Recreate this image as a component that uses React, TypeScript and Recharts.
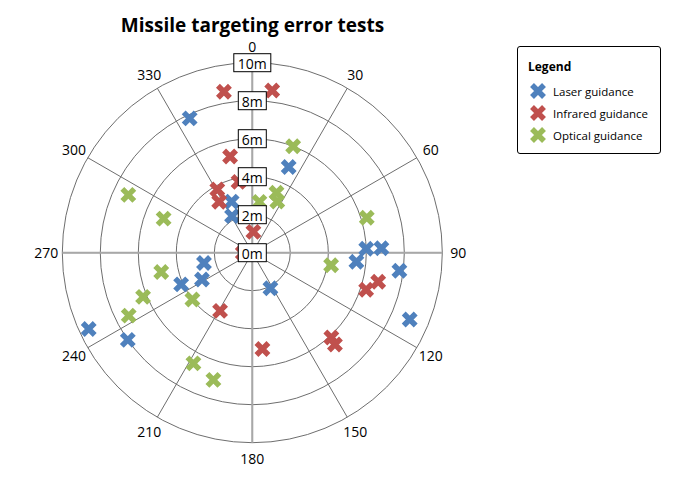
import React from 'react';
import {
  ScatterChart,
  Scatter,
  XAxis,
  YAxis,
  Legend,
  RadarChart,
  Radar,
  PolarGrid,
  PolarAngleAxis,
  PolarRadiusAxis,
} from 'recharts';

// ---- data (angle in degrees clockwise from north, distance in metres) ----
const angleLabels = ['0', '30', '60', '90', '120', '150', '180', '210', '240', '270', '300', '330'];
const ringTicks = [0, 2, 4, 6, 8, 10];

const laserAngle = [335, 23, 338, 331, 258, 242, 246, 235, 245, 153, 95, 88, 88, 97, 113];
const laserDist = [7.8, 4.9, 2.9, 2.2, 2.6, 3.0, 4.1, 8.0, 9.5, 2.1, 5.5, 6.0, 6.8, 7.8, 9.0];

const infraredAngle = [350, 7, 347, 331, 349, 327, 3, 268, 209, 174, 137, 138, 108, 103];
const infraredDist = [8.6, 8.6, 5.2, 3.8, 3.8, 3.2, 1.1, 0.5, 3.5, 5.1, 6.1, 6.5, 6.3, 6.8];

const opticalAngle = [21, 22, 26, 8, 295, 291, 258, 248, 243, 232, 208, 197, 99, 73];
const opticalDist = [6.0, 3.4, 3.0, 2.7, 7.2, 5.0, 4.9, 6.2, 7.3, 4.0, 6.6, 7.0, 4.2, 6.3];

const seriesNames = ['Laser guidance', 'Infrared guidance', 'Optical guidance'];
const seriesColors = ['#4F81BD', '#C0504D', '#9BBB59'];

// ---- helpers ----
const toXY = (angles: number[], dists: number[]) =>
  angles.map((a, i) => {
    const rad = (a * Math.PI) / 180;
    return { angle: a, dist: dists[i], x: dists[i] * Math.sin(rad), y: dists[i] * Math.cos(rad) };
  });

const laserData = toXY(laserAngle, laserDist);
const infraredData = toXY(infraredAngle, infraredDist);
const opticalData = toXY(opticalAngle, opticalDist);

const gridData = angleLabels.map((l) => ({ angle: l, v: 0 }));

const W = 685;
const H = 480;
const CX = 252.3;
const CY = 252.7;
const R = 190;
const FONT = "'Open Sans', 'Noto Sans', sans-serif";

const XMark = (color: string, h = 6) => (props: any) => {
  const { cx, cy } = props;
  if (cx == null || cy == null) return <g />;
  return (
    <path
      d={`M${cx - h},${cy - h}L${cx + h},${cy + h}M${cx + h},${cy - h}L${cx - h},${cy + h}`}
      stroke={color}
      strokeWidth={5.5}
      fill="none"
    />
  );
};

const AngleTick = (props: any) => {
  const { x, y, payload } = props;
  return (
    <text x={x} y={y} textAnchor="middle" dominantBaseline="central" fontSize={14} fill="#000" fontFamily={FONT}>
      {payload.value}
    </text>
  );
};

const RingTick = (props: any) => {
  const { x, y, payload } = props;
  const label = `${payload.value}m`;
  const w = label.length === 2 ? 28 : 37;
  return (
    <g>
      <rect x={x - w / 2} y={y - 9} width={w} height={18} fill="#fff" stroke="#000" strokeWidth={1} />
      <text x={x} y={y + 0.5} textAnchor="middle" dominantBaseline="central" fontSize={14} fill="#000" fontFamily={FONT}>
        {label}
      </text>
    </g>
  );
};

const LegendContent = (props: any) => {
  const payload = [...(props.payload || [])].sort(
    (a: any, b: any) => seriesNames.indexOf(a.value) - seriesNames.indexOf(b.value)
  );
  return (
    <div
      style={{
        width: 144,
        height: 108,
        border: '1px solid #000',
        borderRadius: 3,
        background: '#fff',
        boxSizing: 'border-box',
        fontFamily: FONT,
        fontSize: 11.5,
        color: '#000',
        padding: '12px 0 0 10px',
      }}
    >
      <div style={{ fontWeight: 'bold', fontSize: 12, height: 21, lineHeight: '16px' }}>Legend</div>
      {payload.map((p: any, i: number) => (
        <div key={i} style={{ display: 'flex', alignItems: 'center', height: 22 }}>
          <svg width={22} height={18} style={{ marginRight: 3 }}>
            {XMark(p.color, 6)({ cx: 10, cy: 9 })}
          </svg>
          <span>{p.value}</span>
        </div>
      ))}
    </div>
  );
};

export default function App() {
  return (
    <div style={{ position: 'absolute', left: 0, top: 0, width: W, height: H, background: '#fff', fontFamily: FONT }}>
      <div
        style={{
          position: 'absolute',
          left: 0,
          top: 12,
          width: 505,
          textAlign: 'center',
          fontWeight: 'bold',
          fontSize: 19,
          lineHeight: '26px',
          color: '#000',
        }}
      >
        Missile targeting error tests
      </div>

      {/* layer 1: polar grid and angle labels */}
      <div style={{ position: 'absolute', left: 0, top: 0 }}>
        <RadarChart width={W} height={H} data={gridData} cx={CX} cy={CY} outerRadius={R} innerRadius={0}>
          <PolarGrid gridType="circle" stroke="#6e6e6e" strokeWidth={1} />
          <PolarGrid gridType="circle" polarAngles={[90, 0, -90, -180]} polarRadius={[]} stroke="#a8a8a8" strokeWidth={2} />
          <PolarAngleAxis dataKey="angle" axisLine={false} tickLine={false} tickSize={16} tick={AngleTick} />
          <PolarRadiusAxis type="number" domain={[0, 10]} ticks={ringTicks} angle={90} tick={false} axisLine={false} />
          <Radar dataKey="v" stroke="none" fill="none" dot={false} isAnimationActive={false} />
        </RadarChart>
      </div>

      {/* layer 2: scatter points and legend */}
      <div style={{ position: 'absolute', left: 0, top: 0 }}>
        <ScatterChart
          width={W}
          height={H}
          margin={{ left: CX - R, right: W - CX - R, top: CY - R, bottom: H - CY - R }}
        >
          <XAxis type="number" dataKey="x" domain={[-10, 10]} hide allowDataOverflow />
          <YAxis type="number" dataKey="y" domain={[-10, 10]} hide allowDataOverflow />
          <Scatter name={seriesNames[0]} data={laserData} fill={seriesColors[0]} shape={XMark(seriesColors[0])} isAnimationActive={false} />
          <Scatter name={seriesNames[1]} data={infraredData} fill={seriesColors[1]} shape={XMark(seriesColors[1])} isAnimationActive={false} />
          <Scatter name={seriesNames[2]} data={opticalData} fill={seriesColors[2]} shape={XMark(seriesColors[2])} isAnimationActive={false} />
          <Legend
            layout="horizontal"
            verticalAlign="middle"
            align="center"
            content={LegendContent}
            wrapperStyle={{ left: 517, top: 46, width: 144, height: 108 }}
          />
        </ScatterChart>
      </div>

      {/* layer 3: radius labels on top */}
      <div style={{ position: 'absolute', left: 0, top: 0, pointerEvents: 'none' }}>
        <RadarChart width={W} height={H} data={gridData} cx={CX} cy={CY} outerRadius={R} innerRadius={0}>
          <PolarAngleAxis dataKey="angle" axisLine={false} tickLine={false} tick={false} />
          <PolarRadiusAxis type="number" domain={[0, 10]} ticks={ringTicks} angle={90} tick={RingTick} axisLine={false} />
          <Radar dataKey="v" stroke="none" fill="none" dot={false} isAnimationActive={false} />
        </RadarChart>
      </div>
    </div>
  );
}
